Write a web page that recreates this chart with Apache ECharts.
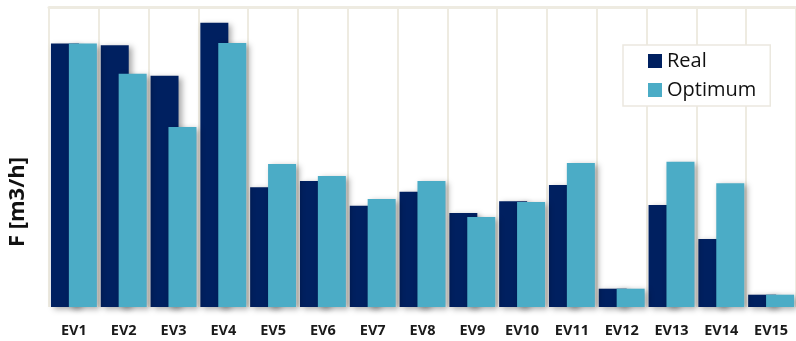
<!DOCTYPE html>
<html><head><meta charset="utf-8">
<script src="https://cdn.jsdelivr.net/npm/echarts@6/dist/echarts.min.js"></script>
<style>html,body{margin:0;padding:0;background:#fff;}#c{width:796px;height:341px;}</style>
</head><body><div id="c"></div>
<script>
var categories = ['EV1','EV2','EV3','EV4','EV5','EV6','EV7','EV8','EV9','EV10','EV11','EV12','EV13','EV14','EV15'];
var realValues = [263.5, 261.7, 231.3, 284.3, 119.7, 126, 101.3, 115.3, 94, 105.7, 122, 18.3, 102, 68, 12.3];
var optimumValues = [263.5, 233.3, 180, 264, 143, 131, 108, 126, 90, 105, 144, 18.3, 145.3, 123.7, 12.3];
var seriesNames = ['Real', 'Optimum'];
var axisTitle = 'F [m3/h]';

var chart = echarts.init(document.getElementById('c'));
var shadow = {shadowColor:'rgba(0,0,0,0.35)', shadowBlur:6, shadowOffsetX:3, shadowOffsetY:2};
chart.setOption({
  animation:false,
  grid:{left:49, right:-1, top:7, bottom:34},
  legend:{
    data:seriesNames, orient:'vertical', left:623, top:45,
    backgroundColor:'#fff', borderColor:'#ebe8df', borderWidth:1.5,
    padding:[5,14,5,25], itemWidth:14, itemHeight:14, itemGap:7,
    icon:'rect',
    textStyle:{fontFamily:'Open Sans', fontSize:20, color:'#111', lineHeight:22}
  },
  xAxis:[{
    type:'category', data:categories, position:'bottom',
    axisLine:{show:false}, axisTick:{show:false},
    axisLabel:{fontFamily:'Open Sans', fontWeight:'bold', fontSize:14.5, color:'#1a1a1a', margin:16},
    splitLine:{show:true, lineStyle:{color:'#eeebe1', width:2}}
  },{
    type:'category', data:categories, position:'top',
    axisLine:{show:true, lineStyle:{color:'#eeebe1', width:3}}, axisTick:{show:false}, axisLabel:{show:false}
  }],
  yAxis:{type:'value', min:0, max:300, axisLine:{show:false}, axisTick:{show:false}, axisLabel:{show:false}, splitLine:{show:false}},
  graphic:[{
    type:'text', left:7, top:157, rotation:Math.PI/2,
    style:{text:axisTitle, font:'bold 22px "Open Sans"', fill:'#111'}
  }],
  series:[
    {name:seriesNames[0], type:'bar', data:realValues, barWidth:28, barGap:'-36%', itemStyle:Object.assign({color:'#002060'}, shadow)},
    {name:seriesNames[1], type:'bar', data:optimumValues, barWidth:28, barGap:'-36%', itemStyle:Object.assign({color:'#4bacc6'}, shadow)}
  ]
});
</script></body></html>
